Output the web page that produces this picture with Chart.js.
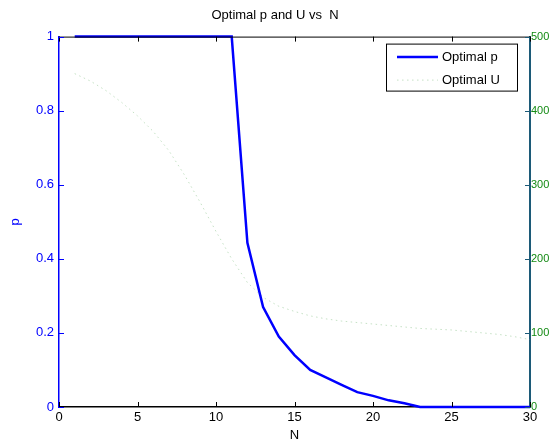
<!DOCTYPE html>
<html>
<head>
<meta charset="utf-8">
<script src="https://cdn.jsdelivr.net/npm/chart.js@4"></script>
<style>
    html, body { margin: 0; padding: 0; background: #ffffff; }
    #wrap { width: 550px; height: 443px; }
</style>
</head>
<body>
<div id="wrap"><canvas id="grafico" width="550" height="443"></canvas></div>
<script>
// valores
var valoresN = [1, 2, 3, 4, 5, 6, 7, 8, 9, 10, 11, 12, 13, 14, 15, 16, 17, 18, 19, 20, 21, 22, 23, 24, 25, 26, 27, 28, 29, 30];
var optimalP = [1, 1, 1, 1, 1, 1, 1, 1, 1, 1, 1, 0.443, 0.27, 0.19, 0.14, 0.10, 0.08, 0.06, 0.04, 0.03, 0.018, 0.01, 0, 0, 0, 0, 0, 0, 0, 0];
var optimalU = [450, 440, 427, 411, 393, 372, 346, 313, 276, 237, 200, 168, 148, 136, 129, 123, 119, 116, 114, 112, 110, 108, 106, 105, 104, 102, 100, 98, 95, 91];
var ticksN = [0, 5, 10, 15, 20, 25, 30];
var ticksP = [0, 0.2, 0.4, 0.6, 0.8, 1];
var ticksU = [0, 100, 200, 300, 400, 500];

var fonte = "'Liberation Sans', Arial, sans-serif";
var corAzul = '#0000ff';
var corVerde = '#138a13';
var corEixoDir = '#1c5a78';

function montarPontos(valores) {
    var pontos = [];
    for (var i = 0; i < valoresN.length; i++) {
        pontos.push({ x: valoresN[i], y: valores[i] });
    }
    return pontos;
}

// ticks para dentro, borda de cima e legenda com caixa (estilo matlab)
var pluginMatlab = {
    id: 'matlab',
    afterDraw: function (chart) {
        var ctx = chart.ctx;
        var area = chart.chartArea;
        var sx = chart.scales.x, sy = chart.scales.y, sy1 = chart.scales.y1;
        ctx.save();
        ctx.lineWidth = 1;

        ctx.strokeStyle = '#000000';
        ctx.beginPath();
        ctx.moveTo(area.left, area.top + 0.5);
        ctx.lineTo(area.right, area.top + 0.5);
        ctx.stroke();

        ticksN.forEach(function (v) {
            var px = Math.round(sx.getPixelForValue(v)) + 0.5;
            ctx.beginPath();
            ctx.moveTo(px, area.bottom);
            ctx.lineTo(px, area.bottom - 5);
            ctx.moveTo(px, area.top);
            ctx.lineTo(px, area.top + 5);
            ctx.stroke();
        });

        ctx.strokeStyle = corAzul;
        ticksP.forEach(function (v) {
            var py = Math.round(sy.getPixelForValue(v)) + 0.5;
            ctx.beginPath();
            ctx.moveTo(area.left, py);
            ctx.lineTo(area.left + 5, py);
            ctx.stroke();
        });

        ctx.strokeStyle = corEixoDir;
        ticksU.forEach(function (v) {
            var py = Math.round(sy1.getPixelForValue(v)) + 0.5;
            ctx.beginPath();
            ctx.moveTo(area.right, py);
            ctx.lineTo(area.right - 5, py);
            ctx.stroke();
        });

        // legenda
        var caixaX = area.right - 144, caixaY = area.top + 7, caixaL = 131, caixaA = 47;
        ctx.fillStyle = '#ffffff';
        ctx.fillRect(caixaX, caixaY, caixaL, caixaA);
        ctx.strokeStyle = '#000000';
        ctx.strokeRect(caixaX + 0.5, caixaY + 0.5, caixaL, caixaA);
        ctx.font = '13px ' + fonte;
        ctx.textBaseline = 'middle';
        chart.data.datasets.forEach(function (ds, i) {
            var ly = caixaY + 13.5 + i * 23;
            ctx.strokeStyle = ds.borderColor;
            ctx.lineWidth = ds.borderWidth;
            ctx.setLineDash(ds.borderDash || []);
            ctx.beginPath();
            ctx.moveTo(caixaX + 11, ly);
            ctx.lineTo(caixaX + 52, ly);
            ctx.stroke();
            ctx.setLineDash([]);
            ctx.fillStyle = '#000000';
            ctx.fillText(ds.label, caixaX + 56, ly);
        });
        ctx.restore();
    }
};

var dados = {
    datasets: [{
        label: 'Optimal p',
        data: montarPontos(optimalP),
        yAxisID: 'y',
        borderColor: corAzul,
        borderWidth: 2.5,
        pointRadius: 0,
        tension: 0,
        clip: 3
    },
    {
        label: 'Optimal U',
        data: montarPontos(optimalU),
        yAxisID: 'y1',
        borderColor: 'rgba(150, 200, 150, 0.55)',
        borderWidth: 1,
        borderDash: [1.5, 3.5],
        pointRadius: 0,
        tension: 0
    }]
};

var config = {
    type: 'line',
    data: dados,
    plugins: [pluginMatlab],
    options: {
        responsive: false,
        animation: false,
        layout: { padding: 0 },
        scales: {
            x: {
                type: 'linear',
                min: 0,
                max: 30,
                afterBuildTicks: function (s) { s.ticks = ticksN.map(function (v) { return { value: v }; }); },
                afterFit: function (s) { s.height = 36; },
                grid: { drawOnChartArea: false, drawTicks: false },
                border: { color: '#000000', width: 1.5 },
                ticks: { color: '#000000', padding: 3, font: { family: fonte, size: 13 } },
                title: { display: true, text: 'N', color: '#000000', padding: 0, font: { family: fonte, size: 13 } }
            },
            y: {
                type: 'linear',
                position: 'left',
                min: 0,
                max: 1,
                afterBuildTicks: function (s) { s.ticks = ticksP.map(function (v) { return { value: v }; }); },
                afterFit: function (s) { s.width = 59; },
                grid: { drawOnChartArea: false, drawTicks: false },
                border: { color: corAzul, width: 1.5 },
                ticks: {
                    color: corAzul,
                    padding: 5,
                    font: { family: fonte, size: 13 },
                    callback: function (v) { return String(Math.round(v * 10) / 10); }
                },
                title: { display: true, text: 'p', color: corAzul, padding: { top: 8, bottom: 0 }, font: { family: fonte, size: 13 } }
            },
            y1: {
                type: 'linear',
                position: 'right',
                min: 0,
                max: 500,
                afterBuildTicks: function (s) { s.ticks = ticksU.map(function (v) { return { value: v }; }); },
                afterFit: function (s) { s.width = 20; },
                grid: { drawOnChartArea: false, drawTicks: false },
                border: { color: corEixoDir, width: 2 },
                ticks: { color: corVerde, padding: 1, font: { family: fonte, size: 11 } }
            }
        },
        plugins: {
            legend: { display: false },
            tooltip: { enabled: false },
            title: {
                display: true,
                text: 'Optimal p and U vs  N',
                color: '#000000',
                padding: { top: 8, bottom: 13 },
                font: { family: fonte, size: 13, weight: 'normal' }
            }
        }
    }
};

var graficoOtimo = new Chart(document.getElementById('grafico'), config);
</script>
</body>
</html>
